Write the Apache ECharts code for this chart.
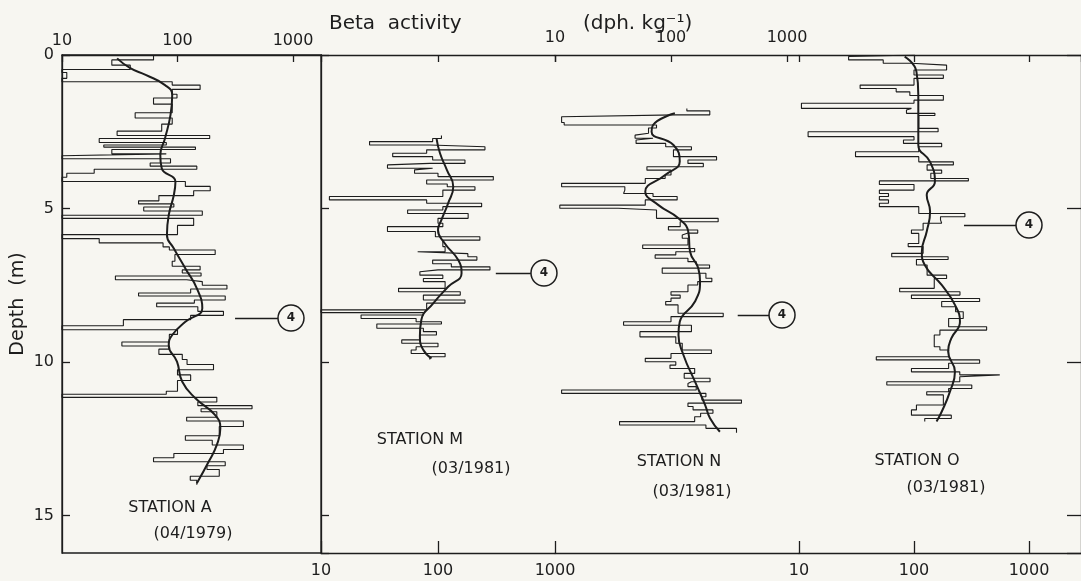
<!DOCTYPE html>
<html>
<head>
<meta charset="utf-8">
<script src="https://cdn.jsdelivr.net/npm/echarts@6/dist/echarts.min.js"></script>
<style>
html,body{margin:0;padding:0;background:#f7f6f1;}
#c{width:1081px;height:581px;}
</style>
</head>
<body>
<div id="c"></div>
<script>
// ---------- DATA (beta activity, dph/kg, vs depth, m) ----------
// Station A (04/1979): sample top depths and values; profile ends at aEnd
const aDepth = [0.00,0.16,0.33,0.47,0.57,0.76,0.87,0.98,1.12,1.28,1.40,1.60,1.88,2.05,2.25,2.48,2.62,2.72,2.85,2.93,3.00,3.08,3.22,3.28,3.38,3.52,3.62,3.72,3.85,3.98,4.12,4.28,4.42,4.58,4.75,4.85,4.95,5.08,5.22,5.32,5.55,5.85,5.98,6.12,6.25,6.35,6.50,6.72,6.88,7.00,7.10,7.20,7.32,7.38,7.50,7.62,7.75,7.85,7.98,8.08,8.20,8.35,8.48,8.62,8.82,8.95,9.10,9.35,9.48,9.58,9.75,9.92,10.08,10.25,10.42,10.60,10.95,11.05,11.15,11.30,11.42,11.52,11.62,11.80,11.92,12.10,12.40,12.55,12.70,12.85,12.98,13.12,13.25,13.38,13.50,13.72,13.85];
const aValue = [62,27,39,10,11,10,90,157,90,99,62,90,43,90,73,30,190,21,80,23,143,27,80,10,87,58,147,19,11,10,117,192,138,69,46,93,51,164,10,138,100,10,21,75,85,212,95,90,157,110,160,29,120,164,268,130,46,259,140,66,150,250,130,34,10,100,85,33,85,69,110,121,205,100,130,100,80,10,219,150,442,160,219,120,372,230,117,200,372,250,93,62,259,180,230,129,147];
const aEnd = 14.0;
const aCurveDepth = [0.11,0.43,0.65,0.98,1.30,1.95,2.71,3.26,3.69,4.13,4.56,5.21,5.86,6.30,6.95,7.60,8.25,8.69,9.12,9.45,9.99,10.64,11.18,11.73,12.16,12.70,13.25,13.95];
const aCurveValue = [30,39,53,78,90,87,78,71,73,96,93,84,81,93,117,147,164,117,90,84,99,110,143,212,235,219,186,147];

// Station M (03/1981)
const mDepth = [2.62,2.72,2.82,2.93,2.99,3.09,3.20,3.31,3.42,3.53,3.58,3.69,3.74,3.85,3.96,4.07,4.20,4.29,4.40,4.61,4.72,4.83,4.94,5.05,5.16,5.32,5.48,5.59,5.75,5.92,6.03,6.24,6.41,6.47,6.57,6.68,6.80,6.90,7.00,7.06,7.17,7.28,7.38,7.60,7.71,7.82,7.98,8.08,8.30,8.39,8.47,8.58,8.69,8.76,8.90,9.01,9.12,9.28,9.39,9.50,9.61,9.72,9.83];
const mValue = [107,90,26,85,252,80,41,90,170,85,37,90,63,100,297,80,120,207,110,11.8,80,236,110,55,181,100,110,37,95,228,110,115,67,180,215,90,130,278,100,70,110,75,115,46,155,75,170,80,10,75,22,65,107,30,75,97,70,49,100,65,59,115,85];
const mEnd = 9.92;
const mCurveDepth = [2.71,3.20,3.74,4.29,4.83,5.37,5.70,6.13,6.68,7.11,7.55,8.09,8.63,9.17,9.61,9.88];
const mCurveValue = [97,104,119,135,122,107,100,114,149,159,122,91,72,70,75,88];

// Station N (03/1981)
const nDepth = [1.74,1.82,1.95,2.01,2.20,2.28,2.38,2.55,2.61,2.71,2.77,2.88,2.99,3.09,3.31,3.42,3.53,3.64,3.75,3.91,4.02,4.18,4.29,4.40,4.51,4.61,4.72,4.89,4.99,5.05,5.32,5.43,5.59,5.70,5.80,5.86,5.97,6.19,6.30,6.41,6.51,6.62,6.73,6.84,6.94,7.11,7.27,7.38,7.49,7.71,7.82,7.92,8.03,8.14,8.41,8.52,8.69,8.80,8.90,9.01,9.18,9.39,9.61,9.72,9.88,9.99,10.10,10.21,10.37,10.53,10.64,10.70,10.80,10.91,11.02,11.13,11.24,11.34,11.45,11.56,11.67,11.78,11.94,12.05,12.16];
const nValue = [137,216,110,11.4,12,75,64,65,49,70,50,90,150,105,247,140,190,62,100,89,60,11.4,40,39,70,113,60,11,35,75,255,120,95,170,140,125,140,57,160,110,73,140,165,215,84,200,225,170,140,100,120,100,90,115,282,100,39,150,150,54,110,125,223,100,60,110,98,160,130,217,150,140,165,11.4,200,185,405,140,155,230,180,160,36,200,367];
const nEnd = 12.30;
const nCurveDepth = [1.90,2.28,2.50,2.93,3.47,3.91,4.45,4.89,5.32,5.76,6.41,6.95,7.38,8.03,8.69,9.12,9.77,10.64,11.40,11.83,12.27];
const nCurveValue = [108,70,68,105,119,89,60,78,116,141,146,172,178,161,119,116,128,161,197,217,264];

// Station O (03/1981)
const oDepth = [0.00,0.05,0.16,0.27,0.33,0.49,0.65,0.76,0.98,1.09,1.20,1.32,1.47,1.57,1.74,1.79,1.90,1.97,2.39,2.50,2.66,2.77,2.88,2.99,3.15,3.31,3.48,3.58,3.75,3.85,4.02,4.10,4.22,4.40,4.51,4.61,4.72,4.83,4.94,5.16,5.27,5.37,5.48,5.70,5.81,6.14,6.24,6.46,6.57,6.66,6.84,7.17,7.28,7.60,7.71,7.82,7.93,8.03,8.20,8.36,8.58,8.85,8.96,9.12,9.50,9.61,9.83,9.93,10.04,10.21,10.32,10.42,10.48,10.64,10.75,10.86,10.97,11.07,11.40,11.56,11.73,11.84];
const oValue = [102,27,54,95,192,100,180,100,34,70,92,180,100,10.5,95,86,152,110,162,12,100,81,174,110,31,110,220,130,174,140,297,50,100,50,60,50,60,50,110,277,170,174,120,95,110,89,120,64,198,105,130,192,150,75,251,95,372,174,230,268,200,428,168,150,168,200,47,372,200,95,250,557,250,58,318,200,129,180,105,95,211,124];
const oEnd = 11.94;
const oCurveDepth = [0.05,0.54,1.30,2.39,2.93,3.48,4.13,4.56,5.10,5.75,6.41,6.84,7.49,8.14,8.69,9.23,9.66,10.32,10.97,11.62,11.94];
const oCurveValue = [83,105,109,109,109,138,152,129,138,129,117,124,174,227,251,211,198,227,205,174,157];

// Horizon "4" markers: [arrow start value, arrow tip value, circle value, depth]
const markA = [741, 315, 961, 8.57];
const markM = [622, 312, 805, 7.10];
const markN = [700, 376, 906, 8.47];
const markO = [782, 272, 1000, 5.54];

const depthTicks = [0, 5, 10, 15];
const stationNames = ['STATION A', 'STATION M', 'STATION N', 'STATION O'];
const stationDates = ['(04/1979)', '(03/1981)', '(03/1981)', '(03/1981)'];

// ---------- CHART ----------
const INK = '#1d1d1d';
const BG = '#f7f6f1';
const FONT = 'DejaVu Sans';
const DMAX = 16.22;

function steps(depth, value, end) {
  const pts = [];
  const n = Math.min(depth.length, value.length);
  for (let i = 0; i < n; i++) {
    const d2 = (i + 1 < n) ? depth[i + 1] : end;
    pts.push([value[i], depth[i]], [value[i], d2]);
  }
  return pts;
}
function curve(depth, value) {
  const n = Math.min(depth.length, value.length);
  const pts = [];
  for (let i = 0; i < n; i++) pts.push([value[i], depth[i]]);
  return pts;
}
const lbl = {color: INK, fontFamily: FONT, fontSize: 16};
const fmt = v => String(Math.round(v));

function xAx(grid, max, pos, opts) {
  return Object.assign({
    gridIndex: grid, type: 'log', logBase: 10, min: 10, max: max, position: pos,
    axisLine: {show: true, lineStyle: {color: INK, width: 1.3}},
    axisTick: {show: true, inside: true, length: 7, lineStyle: {color: INK, width: 1.3}},
    axisLabel: {show: false},
    splitLine: {show: false}, minorTick: {show: false}
  }, opts || {});
}
function yAx(grid, opts) {
  return Object.assign({
    gridIndex: grid, type: 'value', inverse: true, min: 0, max: DMAX, interval: 5,
    axisLine: {show: true, lineStyle: {color: INK, width: 1.3}},
    axisTick: {show: true, inside: true, length: 8, lineStyle: {color: INK, width: 1.3}},
    axisLabel: {show: false},
    splitLine: {show: false}
  }, opts || {});
}

const xAxis = [
  xAx(0, 1748, 'top', {axisLabel: Object.assign({show: true, margin: 6, showMinLabel: true, showMaxLabel: false, formatter: fmt}, lbl)}),
  xAx(1, 1000, 'top'),
  xAx(1, 1000, 'bottom', {axisTick: {show: true, inside: true, length: 12, lineStyle: {color: INK, width: 1.3}},
    axisLabel: Object.assign({show: true, margin: 10, showMinLabel: true, showMaxLabel: true, formatter: fmt}, lbl)}),
  xAx(2, 1269, 'top', {offset: 3, axisLabel: Object.assign({show: true, margin: 6, showMinLabel: true, showMaxLabel: false, formatter: fmt}, lbl)}),
  xAx(2, 1269, 'bottom', {axisTick: {show: false}}),
  xAx(3, 2832, 'top', {offset: 3}),
  xAx(3, 2832, 'bottom', {axisTick: {show: true, inside: true, length: 12, lineStyle: {color: INK, width: 1.3}},
    axisLabel: Object.assign({show: true, margin: 10, showMinLabel: true, showMaxLabel: false, formatter: fmt}, lbl)})
];
const yAxis = [
  yAx(0, {axisLabel: Object.assign({show: true, margin: 8, showMaxLabel: false,
      formatter: v => depthTicks.indexOf(Math.round(v)) >= 0 ? String(Math.round(v)) : ''}, lbl),
    name: 'Depth  (m)', nameLocation: 'middle', nameGap: 34, nameRotate: 90,
    nameTextStyle: {color: INK, fontFamily: FONT, fontSize: 19}}),
  yAx(1),
  yAx(2, {show: false}),
  yAx(3, {position: 'right', axisTick: {show: true, inside: true, length: 14, lineStyle: {color: INK, width: 1.3}}})
];

function stationSeries(xi, yi, depth, value, end, cDepth, cValue, mark) {
  return [
    {type: 'line', xAxisIndex: xi, yAxisIndex: yi, data: steps(depth, value, end),
     symbol: 'none', showSymbol: false, silent: true, animation: false,
     lineStyle: {color: INK, width: 1.1}, z: 2},
    {type: 'line', xAxisIndex: xi, yAxisIndex: yi, data: curve(cDepth, cValue),
     smooth: 0.5, symbol: 'none', showSymbol: false, silent: true, animation: false, clip: false,
     lineStyle: {color: INK, width: 2}, z: 3,
     markLine: {silent: true, animation: false, symbol: ['none', 'arrow'], symbolSize: [0, 11],
       label: {show: false}, lineStyle: {color: INK, width: 1.4, type: 'solid'},
       data: [[{coord: [mark[0], mark[3]]}, {coord: [mark[1], mark[3]]}]]},
     markPoint: {silent: true, animation: false, symbol: 'circle', symbolSize: 26,
       itemStyle: {color: BG, borderColor: INK, borderWidth: 1.5},
       label: {show: true, formatter: '4', color: INK, fontFamily: FONT, fontSize: 12, fontWeight: 'bold'},
       data: [{coord: [mark[2], mark[3]]}]}}
  ];
}

const series = [].concat(
  stationSeries(0, 0, aDepth, aValue, aEnd, aCurveDepth, aCurveValue, markA),
  stationSeries(1, 1, mDepth, mValue, mEnd, mCurveDepth, mCurveValue, markM),
  stationSeries(3, 2, nDepth, nValue, nEnd, nCurveDepth, nCurveValue, markN),
  stationSeries(5, 3, oDepth, oValue, oEnd, oCurveDepth, oCurveValue, markO)
);

const labelPos = [[170, 508, 193, 534], [420, 440, 471, 469], [679, 462, 692, 492], [917, 461, 946, 488]];
const graphic = [];
function txt(x, y, s, size, align) {
  return {type: 'text', x: x, y: y, silent: true,
    style: {text: s, fill: INK, fontFamily: FONT, fontSize: size, align: align || 'center', verticalAlign: 'middle'}};
}
for (let i = 0; i < 4; i++) {
  graphic.push(txt(labelPos[i][0], labelPos[i][1], stationNames[i], 16));
  graphic.push(txt(labelPos[i][2], labelPos[i][3], stationDates[i], 16));
}
graphic.push(txt(329, 24, 'Beta  activity', 20, 'left'));
graphic.push(txt(583, 24, '(dph. kg\u207B\u00B9)', 20, 'left'));

const chart = echarts.init(document.getElementById('c'), null, {renderer: 'canvas', width: 1081, height: 581});
chart.setOption({
  backgroundColor: BG,
  animation: false,
  grid: [
    {left: 62, top: 55, width: 259, height: 498, show: true, borderColor: INK, borderWidth: 1.3, backgroundColor: 'transparent'},
    {left: 321, top: 55, width: 234, height: 498},
    {left: 555, top: 55, width: 244, height: 498},
    {left: 799, top: 55, width: 282, height: 498}
  ],
  xAxis: xAxis,
  yAxis: yAxis,
  series: series,
  graphic: graphic
});
</script>
</body>
</html>
